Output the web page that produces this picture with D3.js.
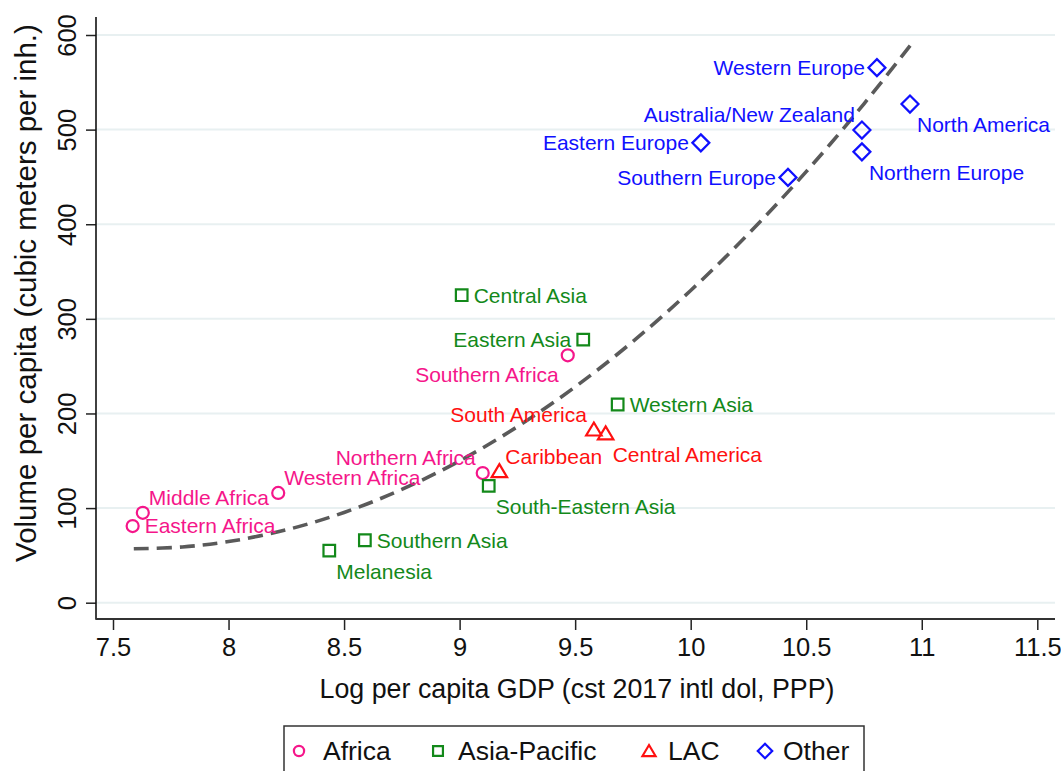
<!DOCTYPE html>
<html><head><meta charset="utf-8">
<script src="https://cdn.jsdelivr.net/npm/d3@7"></script>
<style>html,body{margin:0;padding:0;background:#fff;} svg{display:block;font-family:"Liberation Sans",Arial,sans-serif;}</style>
</head><body>
<svg id="chart" width="1061" height="771"></svg>
<script>
// ---- data ----
const groups = ["Africa", "Asia-Pacific", "LAC", "Other"];
const regionNames = ["Eastern Africa","Middle Africa","Western Africa","Northern Africa","Southern Africa",
  "Central Asia","Eastern Asia","Southern Asia","Melanesia","South-Eastern Asia","Western Asia",
  "Caribbean","South America","Central America",
  "Western Europe","North America","Australia/New Zealand","Eastern Europe","Northern Europe","Southern Europe"];
const regionGroup = ["Africa","Africa","Africa","Africa","Africa",
  "Asia-Pacific","Asia-Pacific","Asia-Pacific","Asia-Pacific","Asia-Pacific","Asia-Pacific",
  "LAC","LAC","LAC",
  "Other","Other","Other","Other","Other","Other"];
const logGdp = [7.585, 7.629, 8.215, 9.100, 9.468,
  9.009, 9.535, 8.590, 8.436, 9.126, 9.684,
  9.172, 9.581, 9.632,
  10.806, 10.949, 10.741, 10.044, 10.741, 10.421];
const volume = [81, 95, 116, 137, 261.5,
  325, 278, 66, 55, 123.5, 209.5,
  139, 183, 179,
  565.5, 527, 499.5, 486, 476.5, 449.5];
const labelClock = [3, 2, 2, 10, 8,
  3, 9, 3, 4, 4, 3,
  2, 10, 4,
  9, 4, 10, 9, 4, 9];
const fitGdp = [7.59, 7.8, 8.0, 8.25, 8.5, 8.75, 9.0, 9.25, 9.5, 9.75, 10.0, 10.25, 10.5, 10.75, 10.95];
const fitVolume = [57.0, 58.9, 64.6, 77.0, 95.4, 119.7, 149.9, 186.0, 228.1, 276.1, 330.0, 389.8, 455.6, 527.3, 588.9];
const xTicks = [7.5, 8, 8.5, 9, 9.5, 10, 10.5, 11, 11.5];
const xTickLabels = ["7.5","8","8.5","9","9.5","10","10.5","11","11.5"];
const yTicks = [0, 100, 200, 300, 400, 500, 600];
const xTitle = "Log per capita GDP (cst 2017 intl dol, PPP)";
const yTitle = "Volume per capita (cubic meters per inh.)";

// ---- styles ----
const colors = {"Africa": "#f5168a", "Asia-Pacific": "#13891a", "LAC": "#ff1010", "Other": "#1010ff"};
const shapes = {"Africa": "circle", "Asia-Pacific": "square", "LAC": "triangle", "Other": "diamond"};

const svg = d3.select("#chart");
const plotL = 96, plotR = 1055, plotT = 17, plotB = 619;
const x = d3.scaleLinear().domain([7.5, 11.5]).range([113, 1037.3]);
const y = d3.scaleLinear().domain([0, 600]).range([602.7, 35]);

// gridlines
svg.append("g").selectAll("line").data(yTicks).join("line")
  .attr("x1", plotL).attr("x2", plotR)
  .attr("y1", d => y(d)).attr("y2", d => y(d))
  .attr("stroke", "#e8f0f1").attr("stroke-width", 2);

// axes
const yAxis = svg.append("g").attr("transform", `translate(${plotL},0)`)
  .call(d3.axisLeft(y).tickValues(yTicks).tickSize(10).tickSizeOuter(0).tickPadding(9));
yAxis.select(".domain").remove();
yAxis.selectAll(".tick line").attr("stroke", "#222").attr("stroke-width", 1.5);
yAxis.selectAll(".tick text").attr("font-size", 25.5).attr("fill", "#111")
  .attr("font-family", "Liberation Sans, Arial, sans-serif")
  .attr("text-anchor", "middle").attr("x", null).attr("dy", null)
  .attr("transform", "translate(-20,0) rotate(-90)");

const xAxis = svg.append("g").attr("transform", `translate(0,${plotB})`)
  .call(d3.axisBottom(x).tickValues(xTicks).tickFormat((d, i) => xTickLabels[i]).tickSize(11).tickSizeOuter(0).tickPadding(8));
xAxis.select(".domain").remove();
xAxis.selectAll(".tick line").attr("stroke", "#222").attr("stroke-width", 1.5);
xAxis.selectAll(".tick text").attr("font-size", 25.5).attr("fill", "#111")
  .attr("font-family", "Liberation Sans, Arial, sans-serif");

svg.append("line").attr("x1", plotL).attr("x2", plotL).attr("y1", plotT).attr("y2", plotB + 0.75)
  .attr("stroke", "#111").attr("stroke-width", 1.6);
svg.append("line").attr("x1", plotL).attr("x2", plotR).attr("y1", plotB).attr("y2", plotB)
  .attr("stroke", "#333").attr("stroke-width", 1.8);

// axis titles
svg.append("text").attr("x", 577).attr("y", 698)
  .attr("text-anchor", "middle").attr("font-size", 26.8).attr("fill", "#111").text(xTitle);
svg.append("text").attr("transform", "translate(36,293) rotate(-90)")
  .attr("text-anchor", "middle").attr("font-size", 29.5).attr("fill", "#111").text(yTitle);

// fit line
const line = d3.line().x(d => x(d[0])).y(d => y(d[1])).curve(d3.curveCatmullRom);
svg.append("path").datum(fitGdp.map((g, i) => [g, fitVolume[i]]))
  .attr("d", line).attr("fill", "none").attr("stroke", "#5a5a5a")
  .attr("stroke-width", 3.6).attr("stroke-dasharray", "15 8");

// marker shapes
function shapePath(shape, s) {
  s = s || 1;
  if (shape === "circle") { const r = 6 * s; return `M${-r},0A${r},${r} 0 1,0 ${r},0A${r},${r} 0 1,0 ${-r},0Z`; }
  if (shape === "square") { const h = 5.8 * s; return `M${-h},${-h}H${h}V${h}H${-h}Z`; }
  if (shape === "triangle") { const h = 7 * s; return `M0,${-h}L${h * 1.1},${h * 0.85}H${-h * 1.1}Z`; }
  const d = 8.5 * s; return `M0,${-d}L${d},0L0,${d}L${-d},0Z`;
}

const pts = regionNames.map((n, i) => ({name: n, g: regionGroup[i], gx: logGdp[i], v: volume[i], clock: labelClock[i]}));

const marks = svg.append("g");
marks.selectAll("path").data(pts).join("path")
  .attr("transform", d => `translate(${x(d.gx)},${y(d.v)})`)
  .attr("d", d => shapePath(shapes[d.g]))
  .attr("fill", "none").attr("stroke", d => colors[d.g]).attr("stroke-width", 2.2);

const offs = {3: [12, 0, "start"], 9: [-12, 0, "end"], 2: [6, -15, "start"], 10: [-7, -15, "end"],
              4: [7, 21, "start"], 8: [-9, 19, "end"]};
svg.append("g").selectAll("text").data(pts).join("text")
  .attr("x", d => x(d.gx) + offs[d.clock][0])
  .attr("y", d => y(d.v) + offs[d.clock][1])
  .attr("dy", "0.35em")
  .attr("text-anchor", d => offs[d.clock][2])
  .attr("font-size", 21).attr("fill", d => colors[d.g]).text(d => d.name);

// legend
const lg = svg.append("g");
lg.append("rect").attr("x", 284).attr("y", 726).attr("width", 580).attr("height", 70)
  .attr("fill", "none").attr("stroke", "#333").attr("stroke-width", 1.5);
const legX = [299, 438, 649, 765];
const legTX = [323, 458, 668, 783];
groups.forEach((g, i) => {
  lg.append("path").attr("transform", `translate(${legX[i]},751)`)
    .attr("d", shapePath(shapes[g], 0.85)).attr("fill", "none")
    .attr("stroke", colors[g]).attr("stroke-width", 2.2);
  lg.append("text").attr("x", legTX[i]).attr("y", 751).attr("dy", "0.35em")
    .attr("font-size", 26.5).attr("fill", "#111").text(g);
});
</script>
</body></html>
